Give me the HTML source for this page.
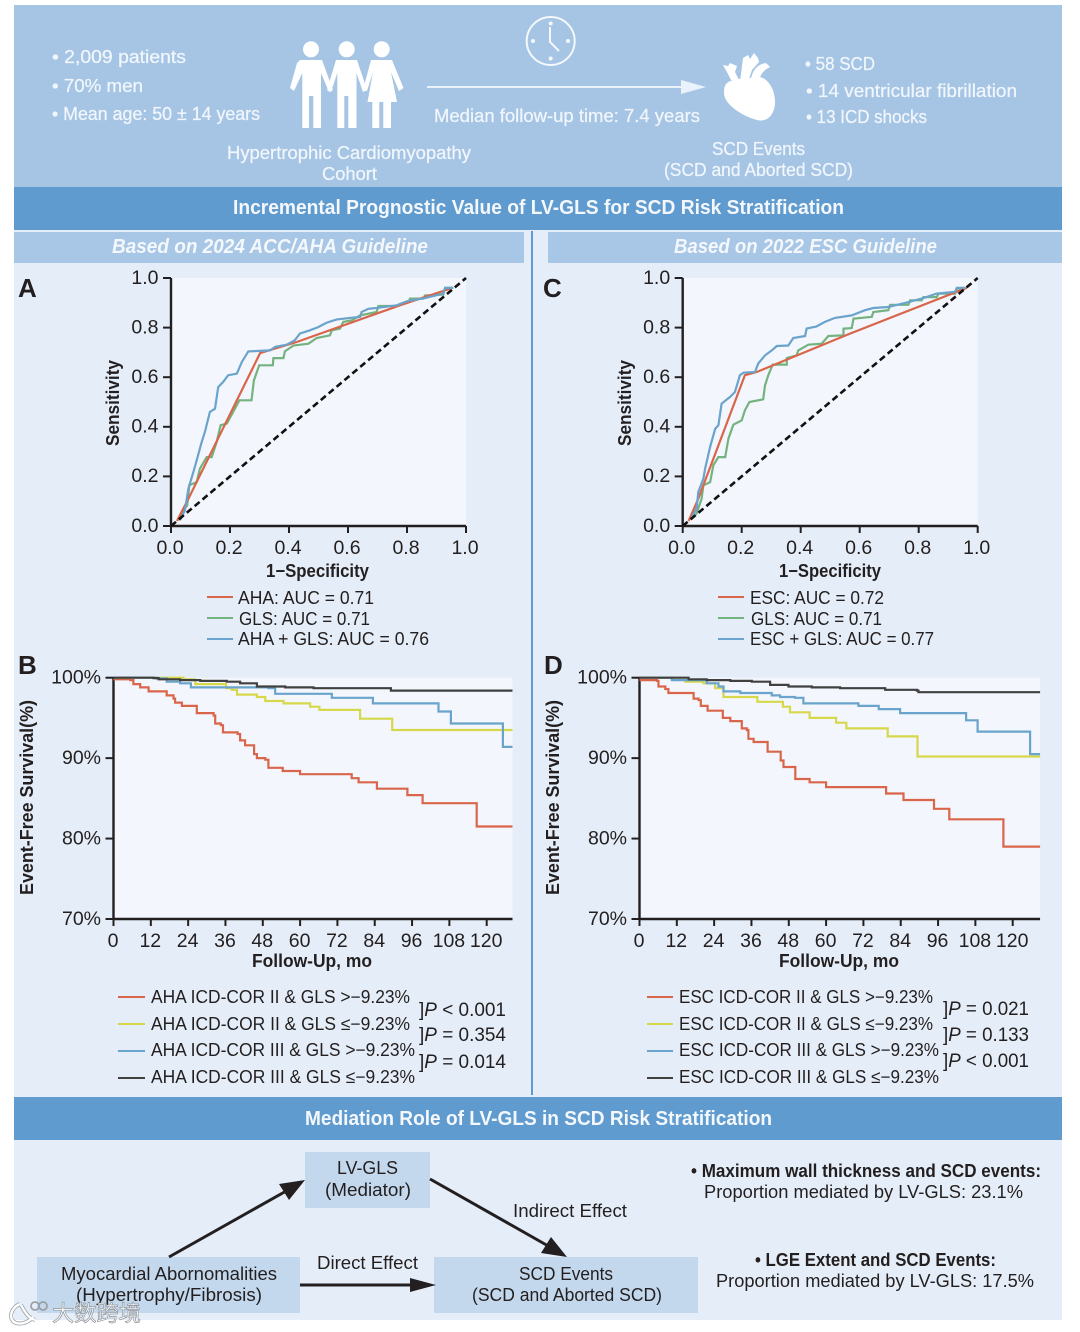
<!DOCTYPE html>
<html lang="en"><head><meta charset="utf-8"><title>LV-GLS SCD Risk Stratification</title>
<style>
html,body{margin:0;padding:0;background:#fff;width:1080px;height:1332px;overflow:hidden}
svg{display:block}
text{font-family:"Liberation Sans","Noto Sans CJK SC",sans-serif;font-size:18px;fill:#231f20}
.w{fill:#f0f6fc;stroke:#f0f6fc;stroke-width:.25}
.b{font-weight:700}
.h{font-weight:700;font-size:20px;fill:#f4f8fc}
.t{font-size:19.5px;fill:#231f20}
.p{font-size:19.5px}
</style></head><body>
<svg id="figure" width="1080" height="1332" viewBox="0 0 1080 1332" xmlns="http://www.w3.org/2000/svg">
<rect width="1080" height="1332" fill="#fff"/>
<rect x="14" y="5" width="1048" height="182" fill="#a6c5e4"/>
<rect x="14" y="187" width="1048" height="43" fill="#5f9bce"/>
<rect x="14" y="230" width="1048" height="867" fill="#e5eef8"/>
<rect x="14" y="232" width="510" height="31" fill="#a8c6e5"/>
<rect x="548" y="232" width="514" height="31" fill="#a8c6e5"/>
<rect x="531" y="231" width="2" height="864" fill="#5f9bce"/>
<rect x="14" y="1097" width="1048" height="43" fill="#5f9bce"/>
<rect x="14" y="1140" width="1048" height="180" fill="#e5eef8"/>

<text class="w" x="52" y="63" textLength="134" lengthAdjust="spacingAndGlyphs">• 2,009 patients</text>
<text class="w" x="52" y="92" textLength="91" lengthAdjust="spacingAndGlyphs">• 70% men</text>
<text class="w" x="52" y="120" textLength="208" lengthAdjust="spacingAndGlyphs">• Mean age: 50 ± 14 years</text>

<g fill="#fff">
<circle cx="311" cy="49.3" r="8"/><circle cx="346.7" cy="49.3" r="8"/><circle cx="381.7" cy="49.3" r="8"/>
<path d="M300,60H322L333,90L329,92L321,73V128H313.3V96H309V128H302.3V73L294,91L290,88L297,63Z"/>
<path d="M336,60H357L367,90L363,92L356.5,73V128H348.3V96H344.3V128H337.3V73L331,92L327,90Z"/>
<path d="M371,60H392L403.5,88L399,91L391,72L397,102H391V128H383.3V102H379.3V128H372.3V102H367.5L373,72L367,91L363,90Z"/>
</g>
<g>
<circle cx="550.7" cy="41" r="24" fill="none" stroke="#f4f8fc" stroke-width="2"/>
<path d="M550,27V42L559,51" fill="none" stroke="#f4f8fc" stroke-width="2"/>
<circle cx="550.7" cy="23.5" r="2" fill="#f4f8fc"/><circle cx="550.7" cy="58.5" r="2" fill="#f4f8fc"/>
<circle cx="533" cy="41" r="2" fill="#f4f8fc"/><circle cx="568" cy="41" r="2" fill="#f4f8fc"/>
</g>
<g>
<rect x="427" y="86" width="256" height="2" fill="#eaf2fb"/>
<path d="M681,80L706,87L681,94Z" fill="#eaf2fb"/>
</g>
<text class="w" x="434" y="122" textLength="266" lengthAdjust="spacingAndGlyphs">Median follow-up time: 7.4 years</text>
<g fill="#fff">
<path d="M726,84C732,78 742,79 750,78C762,72 775,84 775,102C775,114 768,121 760,120.5C748,119 724,106 724,93C724,90 724,87 726,84Z"/>
<path d="M723,65L728,66L730,63L737,66L735,72L739,80H731L728,74Z"/>
<path d="M743,58L748,55L750,59L754,53L758,58L759,62L752,70L748,82H740Z"/>
<path d="M751,80C752,70 758,64 766,63L770,67C764,70 760,74 759,82Z"/>
</g>
<text class="w" x="805" y="70" textLength="70" lengthAdjust="spacingAndGlyphs">• 58 SCD</text>
<text class="w" x="806" y="97" textLength="211" lengthAdjust="spacingAndGlyphs">• 14 ventricular fibrillation</text>
<text class="w" x="806" y="123" textLength="121" lengthAdjust="spacingAndGlyphs">• 13 ICD shocks</text>
<text class="w" x="227" y="159" textLength="244" lengthAdjust="spacingAndGlyphs">Hypertrophic Cardiomyopathy</text>
<text class="w" x="322" y="180" textLength="55" lengthAdjust="spacingAndGlyphs">Cohort</text>
<text class="w" x="712" y="155" textLength="93" lengthAdjust="spacingAndGlyphs">SCD Events</text>
<text class="w" x="664" y="176" textLength="189" lengthAdjust="spacingAndGlyphs">(SCD and Aborted SCD)</text>

<text class="h" x="233" y="214" textLength="611" lengthAdjust="spacingAndGlyphs">Incremental Prognostic Value of LV-GLS for SCD Risk Stratification</text>
<text class="h" style="font-style:italic" x="112" y="253" textLength="316" lengthAdjust="spacingAndGlyphs">Based on 2024 ACC/AHA Guideline</text>
<text class="h" style="font-style:italic" x="674" y="253" textLength="263" lengthAdjust="spacingAndGlyphs">Based on 2022 ESC Guideline</text>

<text class="b" style="font-size:26px" x="18" y="297">A</text>
<text class="b" style="font-size:26px" x="543" y="297">C</text>
<text class="b" style="font-size:26px" x="18" y="674">B</text>
<text class="b" style="font-size:26px" x="544" y="674">D</text>

<g id="chart-a"></g>
<g id="chart-c"></g>
<g id="chart-b"></g>
<g id="chart-d"></g>

<text class="b" transform="translate(119,446) rotate(-90)" textLength="86" lengthAdjust="spacingAndGlyphs">Sensitivity</text>
<text class="b" transform="translate(631,446) rotate(-90)" textLength="86" lengthAdjust="spacingAndGlyphs">Sensitivity</text>
<text class="b" x="266" y="577" textLength="103" lengthAdjust="spacingAndGlyphs">1−Specificity</text>
<text class="b" x="779" y="577" textLength="102" lengthAdjust="spacingAndGlyphs">1−Specificity</text>

<g>
<rect x="207" y="596" width="26" height="2" fill="#d9654a"/>
<rect x="207" y="617" width="26" height="2" fill="#74b27f"/>
<rect x="207" y="638" width="26" height="2" fill="#6aa3cb"/>
<text x="238" y="604" textLength="136" lengthAdjust="spacingAndGlyphs">AHA: AUC = 0.71</text>
<text x="239" y="625" textLength="131" lengthAdjust="spacingAndGlyphs">GLS: AUC = 0.71</text>
<text x="238" y="645" textLength="191" lengthAdjust="spacingAndGlyphs">AHA + GLS: AUC = 0.76</text>
</g>
<g>
<rect x="718" y="596" width="26" height="2" fill="#d9654a"/>
<rect x="718" y="617" width="26" height="2" fill="#74b27f"/>
<rect x="718" y="638" width="26" height="2" fill="#6aa3cb"/>
<text x="750" y="604" textLength="134" lengthAdjust="spacingAndGlyphs">ESC: AUC = 0.72</text>
<text x="751" y="625" textLength="131" lengthAdjust="spacingAndGlyphs">GLS: AUC = 0.71</text>
<text x="750" y="645" textLength="184" lengthAdjust="spacingAndGlyphs">ESC + GLS: AUC = 0.77</text>
</g>

<text class="b" transform="translate(33,895) rotate(-90)" textLength="195" lengthAdjust="spacingAndGlyphs">Event-Free Survival(%)</text>
<text class="b" transform="translate(559,895) rotate(-90)" textLength="195" lengthAdjust="spacingAndGlyphs">Event-Free Survival(%)</text>
<text class="b" x="252" y="967" textLength="120" lengthAdjust="spacingAndGlyphs">Follow-Up, mo</text>
<text class="b" x="779" y="967" textLength="120" lengthAdjust="spacingAndGlyphs">Follow-Up, mo</text>

<g>
<rect x="118" y="996" width="27" height="2" fill="#d9654a"/>
<rect x="118" y="1023" width="27" height="2" fill="#d6d84a"/>
<rect x="118" y="1050" width="27" height="2" fill="#6aa3cb"/>
<rect x="118" y="1077" width="27" height="2" fill="#404040"/>
<text x="151" y="1003" textLength="259" lengthAdjust="spacingAndGlyphs">AHA ICD-COR II &amp; GLS &gt;−9.23%</text>
<text x="151" y="1030" textLength="259" lengthAdjust="spacingAndGlyphs">AHA ICD-COR II &amp; GLS ≤−9.23%</text>
<text x="151" y="1056" textLength="264" lengthAdjust="spacingAndGlyphs">AHA ICD-COR III &amp; GLS &gt;−9.23%</text>
<text x="151" y="1083" textLength="264" lengthAdjust="spacingAndGlyphs">AHA ICD-COR III &amp; GLS ≤−9.23%</text>
<text class="p" x="419" y="1016" textLength="87" lengthAdjust="spacingAndGlyphs">]<tspan style="font-style:italic">P</tspan> &lt; 0.001</text>
<text class="p" x="419" y="1041" textLength="87" lengthAdjust="spacingAndGlyphs">]<tspan style="font-style:italic">P</tspan> = 0.354</text>
<text class="p" x="419" y="1068" textLength="87" lengthAdjust="spacingAndGlyphs">]<tspan style="font-style:italic">P</tspan> = 0.014</text>
</g>
<g>
<rect x="647" y="996" width="26" height="2" fill="#d9654a"/>
<rect x="647" y="1023" width="26" height="2" fill="#d6d84a"/>
<rect x="647" y="1050" width="26" height="2" fill="#6aa3cb"/>
<rect x="647" y="1077" width="26" height="2" fill="#404040"/>
<text x="679" y="1003" textLength="254" lengthAdjust="spacingAndGlyphs">ESC ICD-COR II &amp; GLS &gt;−9.23%</text>
<text x="679" y="1030" textLength="254" lengthAdjust="spacingAndGlyphs">ESC ICD-COR II &amp; GLS ≤−9.23%</text>
<text x="679" y="1056" textLength="260" lengthAdjust="spacingAndGlyphs">ESC ICD-COR III &amp; GLS &gt;−9.23%</text>
<text x="679" y="1083" textLength="260" lengthAdjust="spacingAndGlyphs">ESC ICD-COR III &amp; GLS ≤−9.23%</text>
<text class="p" x="943" y="1015" textLength="86" lengthAdjust="spacingAndGlyphs">]<tspan style="font-style:italic">P</tspan> = 0.021</text>
<text class="p" x="943" y="1041" textLength="86" lengthAdjust="spacingAndGlyphs">]<tspan style="font-style:italic">P</tspan> = 0.133</text>
<text class="p" x="943" y="1067" textLength="86" lengthAdjust="spacingAndGlyphs">]<tspan style="font-style:italic">P</tspan> &lt; 0.001</text>
</g>

<text class="h" x="305" y="1125" textLength="467" lengthAdjust="spacingAndGlyphs">Mediation Role of LV-GLS in SCD Risk Stratification</text>

<rect x="305" y="1152" width="125" height="56" fill="#c3d8ec"/>
<rect x="37" y="1257" width="263" height="56" fill="#c3d8ec"/>
<rect x="434" y="1257" width="264" height="56" fill="#c3d8ec"/>
<text x="337" y="1174" textLength="61" lengthAdjust="spacingAndGlyphs">LV-GLS</text>
<text x="325" y="1196" textLength="86" lengthAdjust="spacingAndGlyphs">(Mediator)</text>
<text x="61" y="1280" textLength="216" lengthAdjust="spacingAndGlyphs">Myocardial Abornomalities</text>
<text x="76" y="1301" textLength="186" lengthAdjust="spacingAndGlyphs">(Hypertrophy/Fibrosis)</text>
<text x="519" y="1280" textLength="94" lengthAdjust="spacingAndGlyphs">SCD Events</text>
<text x="472" y="1301" textLength="190" lengthAdjust="spacingAndGlyphs">(SCD and Aborted SCD)</text>
<text x="317" y="1269" textLength="101" lengthAdjust="spacingAndGlyphs">Direct Effect</text>
<text x="513" y="1217" textLength="114" lengthAdjust="spacingAndGlyphs">Indirect Effect</text>

<g>
<line x1="169" y1="1257" x2="288" y2="1190" stroke="#231f20" stroke-width="3"/>
<path d="M305,1180L279,1184L289,1200Z" fill="#231f20"/>
</g>
<g>
<line x1="430" y1="1179" x2="550" y2="1247" stroke="#231f20" stroke-width="3"/>
<path d="M567,1257L541,1253L551,1237Z" fill="#231f20"/>
</g>
<g>
<line x1="300" y1="1285" x2="412" y2="1285" stroke="#231f20" stroke-width="3"/>
<path d="M436,1285L410,1278V1292Z" fill="#231f20"/>
</g>

<text class="b" x="691" y="1177" textLength="350" lengthAdjust="spacingAndGlyphs">• Maximum wall thickness and SCD events:</text>
<text x="704" y="1198" textLength="319" lengthAdjust="spacingAndGlyphs">Proportion mediated by LV-GLS: 23.1%</text>
<text class="b" x="755" y="1266" textLength="241" lengthAdjust="spacingAndGlyphs">• LGE Extent and SCD Events:</text>
<text x="716" y="1287" textLength="318" lengthAdjust="spacingAndGlyphs">Proportion mediated by LV-GLS: 17.5%</text>

<g>
<path d="M20,1304C10,1308 8,1320 16,1323C23,1325 30,1321 33,1317M21,1305C25,1312 28,1318 35,1320" fill="none" stroke="#9aa0a6" stroke-width="4"/>
<path d="M20,1304C10,1308 8,1320 16,1323C23,1325 30,1321 33,1317M21,1305C25,1312 28,1318 35,1320" fill="none" stroke="#fff" stroke-width="2.4"/>
<circle cx="35" cy="1306" r="4" fill="none" stroke="#9aa0a6" stroke-width="1.8"/><circle cx="43" cy="1306" r="4" fill="none" stroke="#9aa0a6" stroke-width="1.8"/>
<text x="52" y="1321" textLength="89" lengthAdjust="spacingAndGlyphs" style="font-size:22px;fill:#fff;stroke:#8f959b;stroke-width:.7">大数跨境</text>
</g>
</svg>
<script>
const rocTicks = [0, 0.2, 0.4, 0.6, 0.8, 1];
const rocTickLabels = ['0.0', '0.2', '0.4', '0.6', '0.8', '1.0'];
const rocDiagonalFpr = [0, 1];
const rocDiagonalTpr = [0, 1];

const rocARedFpr = [0.02, 0.059, 0.302, 0.426, 0.776, 0.946];
const rocARedTpr = [0.02, 0.11, 0.697, 0.742, 0.89, 0.957];
const rocAGreenFpr = [0.025,0.036,0.055,0.062,0.087,0.098,0.121,0.138,0.155,0.168,0.189,0.211,0.232,0.273,0.281,0.299,0.345,0.347,0.381,0.386,0.415,0.466,0.494,0.539,0.545,0.573,0.584,0.612,0.641,0.697,0.703,0.765,0.805,0.81,0.855,0.861,0.923,0.929,0.957];
const rocAGreenTpr = [0.023,0.056,0.083,0.164,0.177,0.231,0.278,0.278,0.339,0.406,0.413,0.46,0.507,0.507,0.587,0.648,0.648,0.677,0.677,0.704,0.728,0.735,0.758,0.769,0.789,0.796,0.823,0.829,0.849,0.863,0.887,0.887,0.903,0.917,0.917,0.93,0.933,0.96,0.96];
const rocABlueFpr = [0.031,0.047,0.059,0.076,0.087,0.104,0.115,0.132,0.149,0.16,0.177,0.194,0.223,0.24,0.262,0.336,0.353,0.392,0.42,0.437,0.471,0.499,0.528,0.562,0.641,0.646,0.669,0.697,0.765,0.799,0.861,0.923,0.929,0.957];
const rocABlueTpr = [0.023,0.063,0.151,0.218,0.265,0.339,0.379,0.46,0.473,0.56,0.581,0.608,0.614,0.661,0.704,0.708,0.722,0.731,0.749,0.776,0.789,0.802,0.82,0.833,0.843,0.863,0.876,0.879,0.89,0.906,0.919,0.937,0.96,0.96];

const rocCRedFpr = [0.02, 0.053, 0.211, 0.251, 0.567, 0.963];
const rocCRedTpr = [0.02, 0.11, 0.608, 0.621, 0.776, 0.96];
const rocCGreenFpr = [0.031,0.047,0.064,0.07,0.093,0.104,0.121,0.144,0.155,0.172,0.2,0.211,0.226,0.273,0.279,0.29,0.305,0.353,0.353,0.386,0.392,0.426,0.471,0.494,0.545,0.545,0.573,0.579,0.641,0.646,0.697,0.703,0.765,0.771,0.81,0.816,0.861,0.867,0.923,0.929,0.957];
const rocCGreenTpr = [0.03,0.05,0.11,0.164,0.177,0.245,0.278,0.278,0.352,0.409,0.426,0.466,0.5,0.511,0.567,0.608,0.651,0.651,0.677,0.688,0.708,0.731,0.735,0.766,0.769,0.796,0.798,0.836,0.843,0.863,0.87,0.892,0.892,0.91,0.91,0.923,0.923,0.937,0.937,0.957,0.957];
const rocCBlueFpr = [0.031,0.047,0.053,0.07,0.076,0.093,0.11,0.121,0.132,0.16,0.177,0.194,0.206,0.245,0.256,0.279,0.302,0.319,0.358,0.375,0.415,0.42,0.454,0.482,0.516,0.573,0.618,0.646,0.697,0.759,0.816,0.861,0.923,0.929,0.957];
const rocCBlueTpr = [0.036,0.07,0.137,0.191,0.231,0.319,0.392,0.406,0.493,0.52,0.54,0.608,0.618,0.621,0.655,0.688,0.708,0.726,0.728,0.758,0.766,0.796,0.805,0.823,0.839,0.849,0.87,0.879,0.883,0.901,0.919,0.937,0.944,0.96,0.96];

const kmMonthTicks = [0, 12, 24, 36, 48, 60, 72, 84, 96, 108, 120];
const kmMonthLabels = ['0', '12', '24', '36', '48', '60', '72', '84', '96', '108', '120'];
const kmSurvivalTicks = [100, 90, 80, 70];
const kmSurvivalLabels = ['100%', '90%', '80%', '70%'];

const kmBRedMonths = [0,5.4,6.4,8.6,11.3,17.1,19.3,19.8,22,26.8,32.2,32.7,34.5,35.2,39.9,40.7,42.3,45.2,46.1,48.8,49.8,54.4,60,76.6,78.8,84.7,94.5,99.4,116.8];
const kmBRedSurvival = [99.8,99.7,99.2,98.8,98.3,97.8,97.4,96.9,96.5,95.6,95.3,94.3,94.1,93.2,93,92.2,91.6,90.5,90,89.8,88.8,88.4,88,87.5,87,86.2,85.4,84.4,81.5];
const kmBYellowMonths = [0,22.5,26.3,36.2,38,39.7,46.1,48.8,54.7,63.2,66.2,79.3,89.6];
const kmBYellowSurvival = [100,99.8,99.2,98.7,98.5,97.9,97.6,97.1,96.8,96.4,96,94.9,93.5];
const kmBBlueMonths = [0,13.9,17.1,21.4,24.9,49.8,52,70.2,83.4,104.5,108.5,125.2];
const kmBBlueSurvival = [100,99.9,99.5,99.3,98.8,98.7,98,97.5,96.8,95.8,94.3,91.4];
const kmBBlackMonths = [0,12.9,14.5,21.4,27.9,36.4,40.7,46.1,55.2,64.3,89.2];
const kmBBlackSurvival = [100,99.95,99.8,99.7,99.6,99.5,99.3,98.9,98.8,98.7,98.4];

const kmDRedMonths = [0,5.6,6.1,8.3,9.3,17.4,19,19.7,21.9,26.8,29.2,32.9,34.5,35,36.7,41.2,45.4,46.3,50.1,54.7,60,79.3,84.9,94.7,99.6,117];
const kmDRedSurvival = [99.7,99.6,98.9,98.6,98.1,97.4,97.2,96.5,95.9,95,94.6,93.7,93.5,92.4,92,90.8,89.7,88.9,87.4,87,86.4,85.6,84.8,83.7,82.4,79];
const kmDYellowMonths = [0,14.7,20.6,24.3,27,37.9,46.1,48.4,54.7,63.2,66.5,79.8,89.4];
const kmDYellowSurvival = [100,99.5,99.3,98.7,97.6,97,96.4,95.7,95,94.4,93.7,92.7,90.2];
const kmDBlueMonths = [0,10.4,21.6,25.4,27,32.4,42.5,45.2,50,52.7,70.4,76.9,83.8,105,108.7,125.6];
const kmDBlueSurvival = [100,99.7,99.3,98.9,98.3,98.1,97.8,97.6,97.5,96.8,96.5,96.1,95.6,94.7,93.3,90.5];
const kmDBlackMonths = [0,15.8,21.6,29.2,36.1,42,47.9,55.4,64.5,79,89.2,89.7];
const kmDBlackSurvival = [100,99.8,99.7,99.6,99.5,99.1,98.9,98.8,98.7,98.5,98.4,98.2];

const NS = 'http://www.w3.org/2000/svg';
const RED = '#d9654a', GREEN = '#74b27f', BLUE = '#6aa3cb', YELLOW = '#d6d84a', BLACK = '#404040', AXIS = '#231f20';

function make(tag, parent, attrs) {
  const el = document.createElementNS(NS, tag);
  Object.keys(attrs).forEach(function (k) { el.setAttribute(k, attrs[k]); });
  parent.appendChild(el);
  return el;
}
function linear(d0, d1, r0, r1) {
  return function (v) { return r0 + (v - d0) / (d1 - d0) * (r1 - r0); };
}
function drawFrame(g, sx, sy, xTicks, xLabels, yTicks, yLabels, xLabelY, xEndPx, topPx, botPx, labelShift) {
  const x0 = sx(xTicks[0]);
  const bg = make('rect', g, { x: x0, y: topPx, width: xEndPx - x0, height: botPx - topPx, fill: '#f3f7fd' });
  
  
  const yAxis = make('line', g, { x1: x0, y1: topPx, x2: x0, y2: botPx + 1, stroke: AXIS, 'stroke-width': 2.4 });
  
  
  const xAxis = make('line', g, { x1: x0 - 1, y1: botPx, x2: xEndPx, y2: botPx, stroke: AXIS, 'stroke-width': 2.4 });
  
  
  xTicks.forEach(function (t, i) {
    const mark = make('line', g, { x1: sx(t), y1: botPx, x2: sx(t), y2: botPx + 7, stroke: AXIS, 'stroke-width': 2 });
    
    
    const label = make('text', g, { x: sx(t) - labelShift, y: xLabelY, 'text-anchor': 'middle', 'class': 't' });
    
    
    label.textContent = xLabels[i];
  });
  yTicks.forEach(function (t, i) {
    const mark = make('line', g, { x1: x0 - 8, y1: sy(t), x2: x0, y2: sy(t), stroke: AXIS, 'stroke-width': 2 });
    
    
    const label = make('text', g, { x: x0 - 12.5, y: sy(t) + 5.8, 'text-anchor': 'end', 'class': 't' });
    
    
    label.textContent = yLabels[i];
  });
}
function drawCurve(g, name, sx, sy, xs, ys, color, mode, xEnd, extra) {
  let d = 'M' + sx(xs[0]).toFixed(1) + ',' + sy(ys[0]).toFixed(1);
  for (let i = 1; i < xs.length; i++) {
    if (mode === 'step') d += 'H' + sx(xs[i]).toFixed(1) + 'V' + sy(ys[i]).toFixed(1);
    else d += 'L' + sx(xs[i]).toFixed(1) + ',' + sy(ys[i]).toFixed(1);
  }
  if (xEnd !== null) d += 'H' + sx(xEnd).toFixed(1);
  const path = make('path', g, Object.assign({ d: d, fill: 'none', stroke: color, 'stroke-width': 2.2 }, extra || {}));
  
  
}
function drawRoc(id, x0Px, prefix, red, green, blue) {
  const g = document.getElementById(id);
  const sx = linear(0, 1, x0Px, x0Px + 295);
  const sy = linear(0, 1, 526, 278);
  drawFrame(g, sx, sy, rocTicks, rocTickLabels, rocTicks, rocTickLabels, 554, x0Px + 295, 278, 526, 1);
  drawCurve(g, prefix + '-curve-gls', sx, sy, green[0], green[1], GREEN, 'line', null);
  drawCurve(g, prefix + '-curve-guideline', sx, sy, red[0], red[1], RED, 'line', null);
  drawCurve(g, prefix + '-curve-combined', sx, sy, blue[0], blue[1], BLUE, 'line', null);
  drawCurve(g, prefix + '-reference-diagonal', sx, sy, rocDiagonalFpr, rocDiagonalTpr, '#111', 'line', null, { 'stroke-dasharray': '6.5 3.8', 'stroke-width': 2.6 });
}
function drawKm(id, x0Px, xEndMonth, prefix, series) {
  const g = document.getElementById(id);
  const sx = linear(0, 120, x0Px, x0Px + 373.2);
  const sy = linear(70, 100, 919, 677.7);
  drawFrame(g, sx, sy, kmMonthTicks, kmMonthLabels, kmSurvivalTicks, kmSurvivalLabels, 947, sx(xEndMonth), 677.7, 919, 0.5);
  drawCurve(g, prefix + '-curve-red', sx, sy, series[0][0], series[0][1], RED, 'step', xEndMonth);
  drawCurve(g, prefix + '-curve-yellow', sx, sy, series[1][0], series[1][1], YELLOW, 'step', xEndMonth);
  drawCurve(g, prefix + '-curve-blue', sx, sy, series[2][0], series[2][1], BLUE, 'step', xEndMonth);
  drawCurve(g, prefix + '-curve-black', sx, sy, series[3][0], series[3][1], BLACK, 'step', xEndMonth);
}
drawRoc('chart-a', 171, 'roc-a', [rocARedFpr, rocARedTpr], [rocAGreenFpr, rocAGreenTpr], [rocABlueFpr, rocABlueTpr]);
drawRoc('chart-c', 682.7, 'roc-c', [rocCRedFpr, rocCRedTpr], [rocCGreenFpr, rocCGreenTpr], [rocCBlueFpr, rocCBlueTpr]);
drawKm('chart-b', 113.5, 128.3, 'km-b', [[kmBRedMonths, kmBRedSurvival], [kmBYellowMonths, kmBYellowSurvival], [kmBBlueMonths, kmBBlueSurvival], [kmBBlackMonths, kmBBlackSurvival]]);
drawKm('chart-d', 639.5, 128.8, 'km-d', [[kmDRedMonths, kmDRedSurvival], [kmDYellowMonths, kmDYellowSurvival], [kmDBlueMonths, kmDBlueSurvival], [kmDBlackMonths, kmDBlackSurvival]]);
</script>
</body></html>
